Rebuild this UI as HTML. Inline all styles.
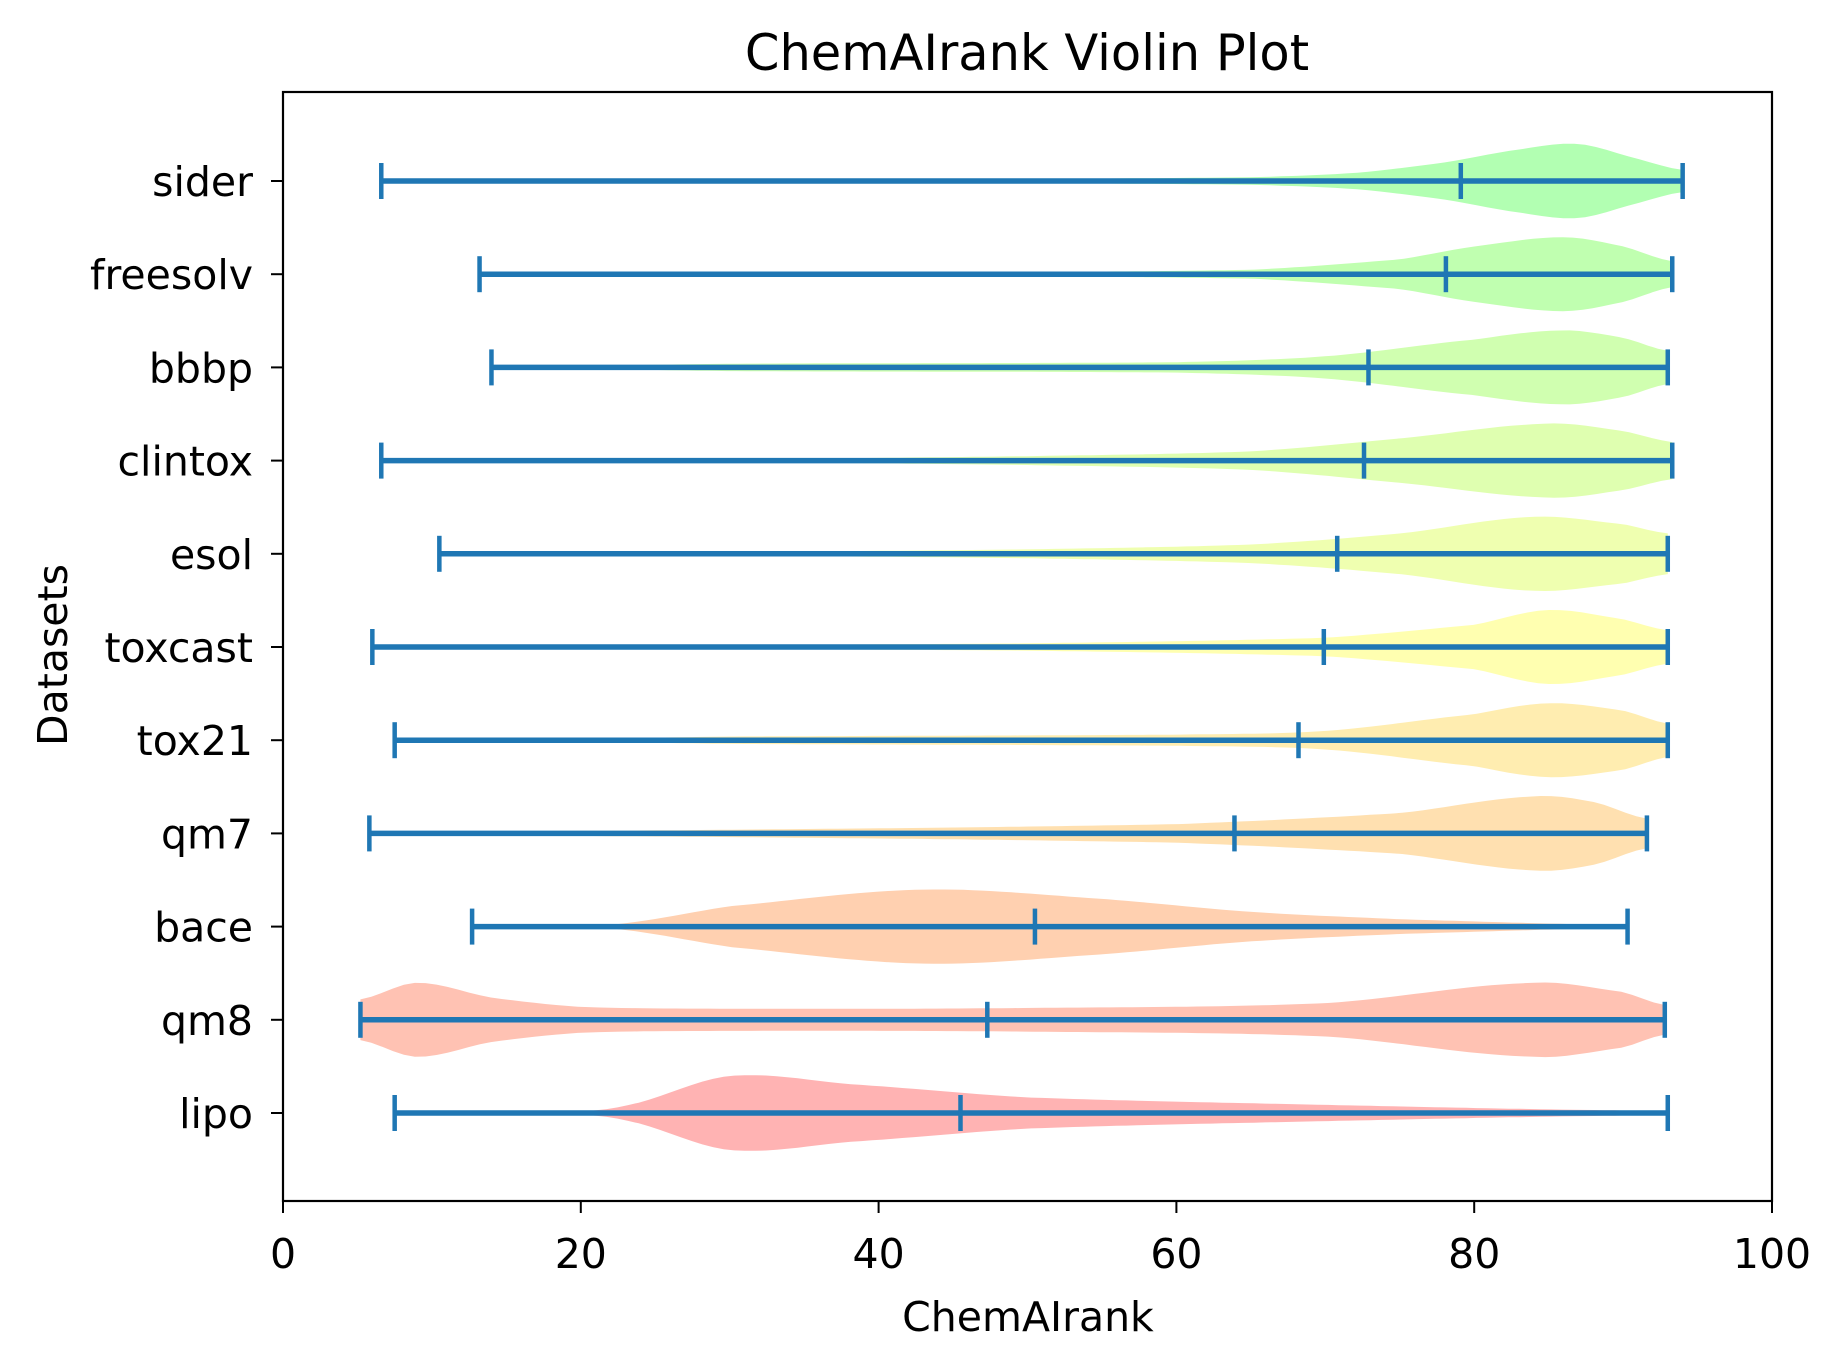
<!DOCTYPE html>
<html><head><meta charset="utf-8"><style>
html,body{margin:0;padding:0;background:#fff;}
svg{display:block;font-family:"DejaVu Sans","Liberation Sans",sans-serif;}
</style></head><body>
<svg id="chart" width="1841" height="1361" viewBox="0 0 1841 1361">
<rect width="1841" height="1361" fill="#fff"/>
<g id="violins"></g>
<g id="stats"></g>
<rect x="283" y="92" width="1489" height="1109" fill="none" stroke="#000" stroke-width="2.2"/>
<g id="xticks"></g>
<g id="yticks"></g>
<text x="1027" y="70" font-size="49.5" text-anchor="middle">ChemAIrank Violin Plot</text>
<text x="1028" y="1331" font-size="41" text-anchor="middle">ChemAIrank</text>
<text x="0" y="0" font-size="41" text-anchor="middle" transform="translate(67,655) rotate(-90)">Datasets</text>
</svg>
<script>
const categories = ["lipo","qm8","bace","qm7","tox21","toxcast","esol","clintox","bbbp","freesolv","sider"];
const mins  = [7.5, 5.2, 12.7, 5.8, 7.5, 6.0, 10.5, 6.6, 14.0, 13.2, 6.6];
const means = [45.5, 47.3, 50.5, 63.9, 68.2, 69.9, 70.8, 72.6, 72.9, 78.1, 79.1];
const maxs  = [93.0, 92.8, 90.3, 91.6, 93.0, 93.0, 93.0, 93.3, 93.0, 93.3, 94.0];
const densX = [
 [7.5,18,23,30,38,50,70,90,93],
 [5.2,9,14,20,30,50,70,84,90,92.8],
 [12.7,22,30,43,55,65,75,90.3],
 [5.8,30,60,75,84,88,91.6],
 [7.5,20,30,60,70,80,85,90,93],
 [6,20,50,70,80,85,90,93],
 [10.5,27,50,65,75,84,90,93],
 [6.6,30,50,65,75,85,90,93.3],
 [14,30,60,70,80,86,90,93],
 [13.2,40,65,75,80,86,90,93.3],
 [6.6,40,65,72,78,83,87,91,94]
];
const densW = [
 [0,0.01,0.2,1,0.78,0.42,0.22,0.07,0.03],
 [0.55,1,0.6,0.35,0.3,0.32,0.45,1,0.75,0.4],
 [0,0.05,0.55,1,0.75,0.4,0.2,0.04],
 [0.05,0.1,0.25,0.55,1,0.85,0.4],
 [0,0.04,0.1,0.15,0.25,0.7,1,0.8,0.45],
 [0,0.04,0.1,0.25,0.6,1,0.75,0.45],
 [0,0.04,0.12,0.25,0.55,1,0.8,0.55],
 [0,0.04,0.12,0.25,0.6,1,0.8,0.5],
 [0,0.1,0.14,0.3,0.75,1,0.8,0.45],
 [0,0.04,0.12,0.4,0.75,1,0.75,0.35],
 [0,0.03,0.1,0.22,0.5,0.85,1,0.6,0.3]
];
const colors = ["#ffb3b3","#ffc2b3","#ffd0b0","#ffe0b0","#ffedb0","#ffffb0","#efffb0","#dfffb0","#d0ffb0","#c0ffb0","#b2ffb2"];
const xTickVals = [0,20,40,60,80,100];

const X0=283, X1=1772, Y0=92, Y1=1201;
const xs = v => X0 + (v/100)*(X1-X0);
const ys = i => 1113 - i*93.2;
const HW = 37;
const NS="http://www.w3.org/2000/svg";
function mk(tag, attrs){const e=document.createElementNS(NS,tag);for(const k in attrs)e.setAttribute(k,attrs[k]);return e;}

function interp(xa, wa, x){
  let i=0; while(i<xa.length-2 && x>xa[i+1]) i++;
  const t=(x-xa[i])/(xa[i+1]-xa[i]);
  const p0=wa[Math.max(i-1,0)], p1=wa[i], p2=wa[i+1], p3=wa[Math.min(i+2,wa.length-1)];
  const t2=t*t,t3=t2*t;
  const v=0.5*((2*p1)+(-p0+p2)*t+(2*p0-5*p1+4*p2-p3)*t2+(-p0+3*p1-3*p2+p3)*t3);
  return Math.max(0,v);
}

const gV=document.getElementById('violins'), gS=document.getElementById('stats');
const gX=document.getElementById('xticks'), gY=document.getElementById('yticks');
categories.forEach((c,i)=>{
  const xa=densX[i], wa=densW[i], cy=ys(i);
  const a=xa[0], b=xa[xa.length-1], N=120;
  let top=[], bot=[];
  for(let k=0;k<=N;k++){
    const v=a+(b-a)*k/N; const w=interp(xa,wa,v)*HW;
    top.push(xs(v).toFixed(1)+","+(cy-w).toFixed(1));
    bot.unshift(xs(v).toFixed(1)+","+(cy+w).toFixed(1));
  }
  const p=mk('polygon',{points:top.concat(bot).join(' '),fill:colors[i]});
  
  
  gV.appendChild(p);
  const ln=mk('line',{x1:xs(mins[i]),x2:xs(maxs[i]),y1:cy,y2:cy,stroke:'#1f77b4','stroke-width':5.5});
  
  
  gS.appendChild(ln);
  [mins[i],means[i],maxs[i]].forEach((v,j)=>{
    const cap=mk('line',{x1:xs(v),x2:xs(v),y1:cy-18,y2:cy+18,stroke:'#1f77b4','stroke-width':4.5});
    
    
    gS.appendChild(cap);
  });
  const t=mk('line',{x1:X0-12,x2:X0,y1:cy,y2:cy,stroke:'#000','stroke-width':2});
  
  
  gY.appendChild(t);
  const tl=mk('text',{x:X0-30,y:cy+15,'font-size':41,'text-anchor':'end'});
  tl.textContent=c;
  
  
  gY.appendChild(tl);
});
xTickVals.forEach(v=>{
  const t=mk('line',{x1:xs(v),x2:xs(v),y1:Y1,y2:Y1+12,stroke:'#000','stroke-width':2});
  
  
  gX.appendChild(t);
  const tl=mk('text',{x:xs(v),y:1268,'font-size':41,'text-anchor':'middle'});
  tl.textContent=v;
  
  
  gX.appendChild(tl);
});
</script>
</body></html>
